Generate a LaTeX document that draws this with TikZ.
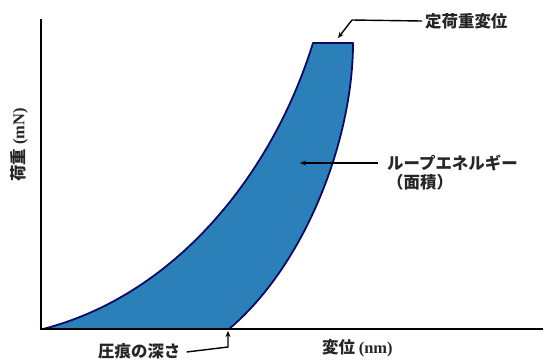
\documentclass[tikz,border=0pt]{standalone}
\usepackage{fontspec}
\setmainfont{Liberation Serif}
\newfontfamily\jp{Noto Sans CJK JP}
\usetikzlibrary{arrows.meta}
\definecolor{loopfill}{RGB}{43,128,186}
\definecolor{loopline}{RGB}{10,10,100}
\tikzset{
  axis/.style={line width=2.4bp,black},
  lbl/.style={font=\jp\bfseries\fontsize{16.5}{19}\selectfont, inner sep=0pt, text=black!85},
  leader/.style={line width=1.4bp, black, -{Stealth[length=6bp,width=5bp]}},
}
\begin{document}
\begin{tikzpicture}[x=1bp,y=-1bp]
\useasboundingbox (0,0) rectangle (543,360);
% key points
\coordinate (O) at (41,329);
\coordinate (S) at (43,329);
\coordinate (Ytop) at (41,19);
\coordinate (Xend) at (543,329);
\coordinate (PL) at (313,43);
\coordinate (PR) at (353,43);
\coordinate (D) at (229,329);
% loop fill
\fill[loopfill] (S) .. controls (175,295) and (272,175) .. (PL) -- (PR)
  .. controls (353,140) and (305,265) .. (D) -- cycle;
\draw[loopline,line width=1.8bp,line join=round]
  (S) .. controls (175,295) and (272,175) .. (PL) -- (PR)
  .. controls (353,140) and (305,265) .. (D);
% axes
\draw[axis] (Ytop) -- (O) -- (Xend);
% labels
\node[lbl,anchor=west] (top) at (425,21) {定荷重変位};
\node[lbl,anchor=west] (loop) at (387,163) {ループエネルギー};
\node[lbl,anchor=north west] (area) at (387,174) {（面積）};
\node[lbl,anchor=west] (depth) at (98,351) {圧痕の深さ};
\node[lbl,anchor=west] (xl) at (322,348) {変位 {\rmfamily\bfseries(nm)}};
\node[lbl,rotate=90] (yl) at (19,145) {荷重 {\rmfamily\bfseries(mN)}};
% leaders
\coordinate (TopTip) at (338,38);
\coordinate (TopBend) at (352,20);
\draw[leader] (top.west) ++(-3,0) -- (TopBend) -- (TopTip);
\coordinate (LoopTip) at (300,163);
\draw[leader] (378,163) -- (LoopTip);
\coordinate (DBend) at (228,347);
\coordinate (DTip) at (228,331);
\draw[leader] (depth.east) ++(6,1) -- (DBend) -- (DTip);
\end{tikzpicture}
\end{document}
